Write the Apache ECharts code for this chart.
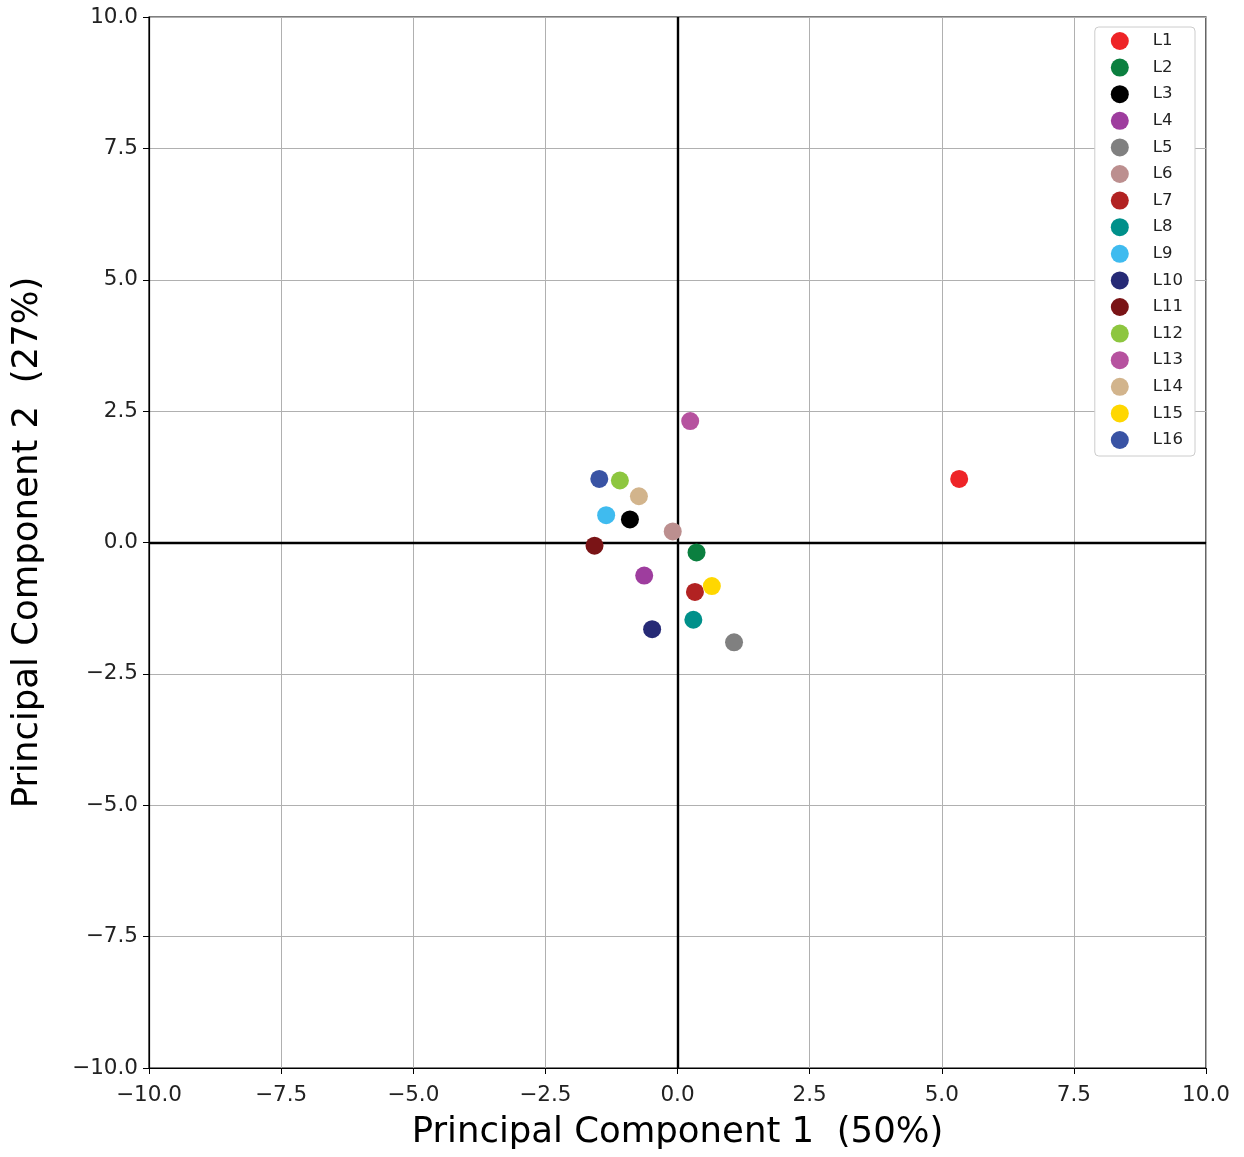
<!DOCTYPE html>
<html>
<head>
<meta charset="utf-8">
<script src="https://cdn.jsdelivr.net/npm/echarts@6/dist/echarts.min.js"></script>
<style>html,body{margin:0;padding:0;background:#fff;}#c{width:1244px;height:1157px;}</style>
</head>
<body>
<div id="c"></div>
<script>
const names = ['L1','L2','L3','L4','L5','L6','L7','L8','L9','L10','L11','L12','L13','L14','L15','L16'];
const colors = ['#ee2427','#0b7f3f','#000000','#9e3d9e','#808080','#bc8f8f','#b22222','#00908a','#3fbbef','#262a76','#7a1416','#8dc63f','#b6529f','#d2b48c','#ffd700','#3953a4'];
const pc1 = [5.33, 0.36, -0.90, -0.63, 1.07, -0.09, 0.33, 0.30, -1.35, -0.48, -1.57, -1.09, 0.24, -0.73, 0.65, -1.48];
const pc2 = [1.21, -0.19, 0.44, -0.63, -1.90, 0.21, -0.94, -1.47, 0.52, -1.65, -0.06, 1.18, 2.31, 0.88, -0.83, 1.21];
const axisTicks = [-10, -7.5, -5, -2.5, 0, 2.5, 5, 7.5, 10];

const font = 'DejaVu Sans';
const fmt = v => v.toFixed(1).replace('-', '\u2212');

const series = names.map((n, i) => ({
  name: n,
  type: 'scatter',
  symbolSize: 18,
  itemStyle: { color: colors[i], opacity: 1 },
  data: [[pc1[i], pc2[i]]],
  z: 5
}));
series[0].markLine = {
  silent: true,
  symbol: 'none',
  label: { show: false },
  lineStyle: { color: '#000', width: 2.4, type: 'solid' },
  data: [{ xAxis: 0 }, { yAxis: 0 }],
  z: 3
};

function axisCommon(nameText, isX) {
  return {
    type: 'value',
    min: axisTicks[0],
    max: axisTicks[axisTicks.length - 1],
    interval: axisTicks[1] - axisTicks[0],
    name: nameText,
    nameLocation: 'middle',
    nameGap: isX ? 47 : 103,
    nameTextStyle: { fontFamily: font, fontSize: 35.5, color: '#000' },
    axisLine: { show: true, onZero: false, lineStyle: { color: '#000', width: 1.2 } },
    axisTick: { show: true, inside: false, length: 6, lineStyle: { color: '#000', width: 1 } },
    axisLabel: { fontFamily: font, fontSize: 21.5, color: '#222', margin: isX ? 16 : 11, formatter: fmt, showMinLabel: true, showMaxLabel: true },
    splitLine: { show: true, lineStyle: { color: '#b0b0b0', width: 1 } }
  };
}

const chart = echarts.init(document.getElementById('c'), null, { renderer: 'canvas' });
chart.setOption({
  backgroundColor: '#fff',
  animation: false,
  grid: { left: 149, right: 38, top: 17, bottom: 89, show: true, borderColor: '#000', borderWidth: 1.2, backgroundColor: 'transparent' },
  xAxis: axisCommon('Principal Component 1  (50%)', true),
  yAxis: axisCommon('Principal Component 2  (27%)', false),
  legend: {
    orient: 'vertical',
    right: 49,
    top: 27,
    data: names,
    icon: 'circle',
    itemWidth: 44,
    itemHeight: 18,
    itemGap: 8.6,
    padding: [5, 12, 7, 16],
    backgroundColor: '#fff',
    borderColor: '#cccccc',
    borderWidth: 1,
    borderRadius: 4,
    textStyle: { fontFamily: font, fontSize: 16.5, color: '#222', padding: [0, 0, 0, 6] }
  },
  series: series
});
</script>
</body>
</html>
